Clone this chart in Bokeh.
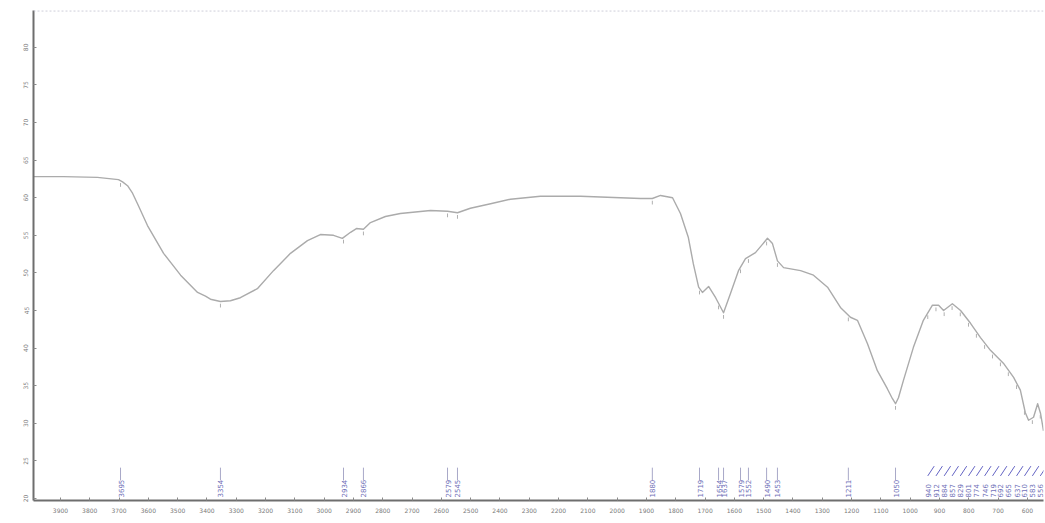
import numpy as np
from bokeh.plotting import figure
from bokeh.models import Range1d, FixedTicker, Span
from bokeh.core.properties import value
from bokeh.embed import file_html
from bokeh.resources import INLINE

# IR transmittance spectrum (wavenumber in cm-1, transmittance in %)
wavenumber = [3992, 3890, 3774, 3702, 3688, 3671, 3654, 3637, 3603, 3548, 3490, 3432,
              3405, 3388, 3354, 3320, 3286, 3228, 3173, 3115, 3057, 3013, 2968, 2938,
              2910, 2890, 2866, 2842, 2791, 2740, 2637, 2579, 2545, 2501, 2432, 2364,
              2262, 2125, 1989, 1920, 1880, 1852, 1811, 1784, 1757, 1740, 1722, 1709,
              1688, 1664, 1637, 1613, 1586, 1562, 1528, 1487, 1470, 1453, 1432, 1374,
              1330, 1282, 1238, 1204, 1180, 1146, 1112, 1078, 1061, 1050, 1040, 1023,
              989, 955, 924, 903, 886, 856, 828, 794, 760, 726, 682, 647, 624, 607,
              596, 579, 565, 555, 545]
transmittance = [62.8, 62.8, 62.7, 62.4, 62.1, 61.6, 60.6, 59.2, 56.3, 52.6, 49.7, 47.4,
                 46.9, 46.5, 46.2, 46.3, 46.7, 47.9, 50.3, 52.6, 54.3, 55.1, 55.0, 54.6,
                 55.4, 55.9, 55.8, 56.7, 57.5, 57.9, 58.3, 58.2, 58.0, 58.6, 59.2, 59.8,
                 60.2, 60.2, 60.0, 59.9, 59.9, 60.3, 60.0, 57.9, 54.7, 51.2, 48.1, 47.4,
                 48.2, 46.7, 44.7, 47.3, 50.3, 51.9, 52.7, 54.6, 53.9, 51.6, 50.7, 50.3,
                 49.7, 48.1, 45.4, 44.1, 43.7, 40.6, 37.0, 34.6, 33.3, 32.6, 33.4, 35.7,
                 40.1, 43.7, 45.7, 45.7, 45.0, 45.9, 45.0, 43.3, 41.4, 39.7, 38.0, 36.1,
                 34.4, 31.4, 30.4, 30.8, 32.6, 31.3, 29.0]

# picked peaks
peaks = [3695, 3354, 2934, 2866, 2579, 2545, 1880, 1719, 1654, 1637, 1579, 1552,
         1490, 1453, 1211, 1050]
cluster_peaks = [940, 912, 884, 857, 829, 801, 774, 746, 719, 692, 665, 637, 610, 583, 556]

x_ticks = [3900, 3800, 3700, 3600, 3500, 3400, 3300, 3200, 3100, 3000, 2900, 2800,
           2700, 2600, 2500, 2400, 2300, 2200, 2100, 2000, 1900, 1800, 1700, 1600,
           1500, 1400, 1300, 1200, 1100, 1000, 900, 800, 700, 600]
y_ticks = [20, 25, 30, 35, 40, 45, 50, 55, 60, 65, 70, 75, 80]

p = figure(width=1045, height=523, output_backend="svg", toolbar_location=None,
           x_range=Range1d(3992, 545), y_range=Range1d(19.73, 84.9),
           min_border_left=33, min_border_right=2, min_border_top=10,
           min_border_bottom=23)
p.grid.visible = False
p.outline_line_color = None
p.background_fill_color = "white"
p.border_fill_color = "white"

p.xaxis.ticker = FixedTicker(ticks=x_ticks)
p.yaxis.ticker = FixedTicker(ticks=y_ticks)
for ax in (p.xaxis, p.yaxis):
    ax.axis_line_color = "#6e6e6e"
    ax.axis_line_width = 2
    ax.major_tick_in = 3
    ax.major_tick_out = 0
    ax.minor_tick_in = 0
    ax.minor_tick_out = 0
    ax.major_tick_line_color = "#8a8a8a"
    ax.major_label_text_font_size = "6px"
    ax.major_label_text_color = "#7a7a7a"
    ax.major_label_text_font = "DejaVu Sans"
p.xaxis.major_label_standoff = 7
p.yaxis.major_label_standoff = 5
p.yaxis.major_label_orientation = "vertical"

# dotted frame line along the top
p.add_layout(Span(location=84.85, dimension="width", line_color="#b8b8c8",
                  line_width=1, line_dash="2 2"))

# spectrum trace
p.line(wavenumber, transmittance, line_color="#ababab", line_width=1.4,
       line_join="round")

# small markers under the curve at each picked peak
all_peaks = peaks + cluster_peaks
wn_asc = np.array(wavenumber[::-1], dtype=float)
tr_asc = np.array(transmittance[::-1], dtype=float)
peak_t = np.interp(all_peaks, wn_asc, tr_asc)
p.segment(x0=all_peaks, y0=peak_t - 0.3, x1=all_peaks, y1=peak_t - 0.8,
          line_color="#b0b0b0", line_width=1)

# peak labels along the bottom
label_base = 20.13
p.segment(x0=peaks, y0=[22.4] * len(peaks), x1=peaks, y1=[24.1] * len(peaks),
          line_color="#a8a8c8", line_width=1)
p.text(x=peaks, y=[label_base] * len(peaks), text=[str(v) for v in peaks],
       angle=np.pi / 2, text_align="left", text_baseline="middle",
       text_font=value("DejaVu Sans"), text_font_size="7px", text_color="#7070b8")

cl = np.array(cluster_peaks, dtype=float)
p.segment(x0=cl, y0=[23.0] * len(cl), x1=cl - 22, y1=[24.3] * len(cl),
          line_color="#6464c4", line_width=1)
p.text(x=cluster_peaks, y=[label_base] * len(cl), text=[str(v) for v in cluster_peaks],
       angle=np.pi / 2, text_align="left", text_baseline="middle",
       text_font=value("DejaVu Sans"), text_font_size="7px", text_color="#7070b8")

open("out.html", "w").write(file_html(p, INLINE))
